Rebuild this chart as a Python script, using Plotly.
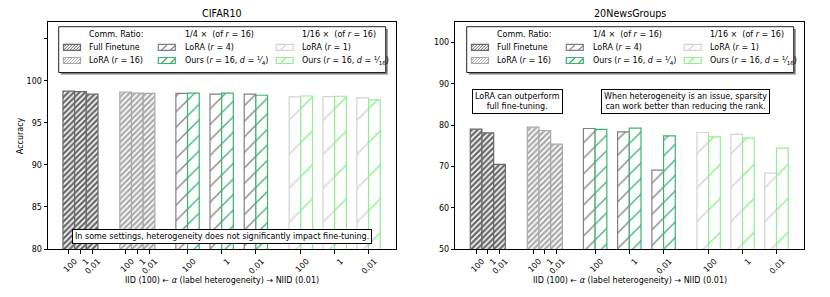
import plotly.graph_objects as go

# ---------------- data ----------------
alphas = ["100", "1", "0.01"]

cifar_full = [98.77, 98.73, 98.41]
cifar_lora16 = [98.65, 98.53, 98.50]
cifar_lora4 = [98.50, 98.41, 98.41]
cifar_ours_q = [98.53, 98.53, 98.29]
cifar_lora1 = [98.10, 98.13, 97.98]
cifar_ours_s = [98.20, 98.17, 97.74]

news_full = [79.03, 78.14, 70.49]
news_lora16 = [79.52, 78.71, 75.40]
news_lora4 = [79.20, 78.39, 69.10]
news_ours_q = [78.96, 79.28, 77.42]
news_lora1 = [78.23, 77.75, 68.39]
news_ours_s = [77.18, 76.86, 74.44]

series_names = ["Full Finetune", "LoRA (r = 16)", "LoRA (r = 4)",
                "Ours (r = 16, d = 1/4)", "LoRA (r = 1)", "Ours (r = 16, d = 1/16)"]

# ---------------- layout constants ----------------
# the page body has an 8px default margin, so the figure is offset by 8px
OFF = 8
W, H = 830 - OFF, 297 - OFF
ML, MR, MT, MB = 48 - OFF, 26, 22 - OFF, 48
PW, PH = W - ML - MR, H - MT - MB   # 756 x 227

pos_full = [1.78, 2.78, 3.78]
pos_lora16 = [6.65, 7.65, 8.65]
pos_quarter = [11.95, 14.87, 17.80]
pos_sixteenth = [21.65, 24.55, 27.45]
BW = 1.0
XR = [0, 29.8]

C_FULL = "#696969"
C_L16 = "#a9a9a9"
C_L4 = "#808080"
C_OQ = "#3cb371"
C_L1 = "#d3d3d3"
C_OS = "#90ee90"
FONT = "DejaVu Sans"


# window-pixel -> paper coordinates
def px(x):
    return (x - 48) / PW


def py(y):
    return (249 - y) / PH


fig = go.Figure()


def add_bars(xs, ys, color, shape_size, solidity, name, xa, ya):
    fig.add_trace(go.Bar(
        x=xs, y=ys, width=BW, name=name, showlegend=False,
        marker=dict(color="white",
                    line=dict(color=color, width=1.2),
                    pattern=dict(shape="/", fgcolor=color, bgcolor="white",
                                 size=shape_size, solidity=solidity, fillmode="replace")),
        xaxis=xa, yaxis=ya))


panels = [
    ("x", "y", [cifar_full, cifar_lora16, cifar_lora4, cifar_ours_q, cifar_lora1, cifar_ours_s]),
    ("x2", "y2", [news_full, news_lora16, news_lora4, news_ours_q, news_lora1, news_ours_s]),
]
for xa, ya, d in panels:
    add_bars(pos_full, d[0], C_FULL, 4, 0.6, series_names[0], xa, ya)
    add_bars(pos_lora16, d[1], C_L16, 4, 0.55, series_names[1], xa, ya)
    add_bars([p - BW / 2 for p in pos_quarter], d[2], C_L4, 11, 0.12, series_names[2], xa, ya)
    add_bars([p + BW / 2 for p in pos_quarter], d[3], C_OQ, 11, 0.12, series_names[3], xa, ya)
    add_bars([p - BW / 2 for p in pos_sixteenth], d[4], C_L1, 24, 0.06, series_names[4], xa, ya)
    add_bars([p + BW / 2 for p in pos_sixteenth], d[5], C_OS, 24, 0.06, series_names[5], xa, ya)

tickvals = pos_full + pos_lora16 + pos_quarter + pos_sixteenth
ticktext = alphas * 4

left_dom = [0, px(396)]
right_dom = [px(455.3), 1]

xcommon = dict(range=XR, tickvals=tickvals, ticktext=ticktext, tickangle=-45,
               ticks="outside", ticklen=3.5, tickwidth=0.8, tickcolor="black",
               showline=True, linecolor="black", linewidth=1, mirror=True,
               showgrid=False, zeroline=False, ticklabelshift=6, automargin=False,
               tickfont=dict(family=FONT, size=8, color="black"))
ycommon = dict(ticks="outside", ticklen=3.5, tickwidth=0.8, tickcolor="black",
               showline=True, linecolor="black", linewidth=1, mirror=True,
               showgrid=False, zeroline=False, automargin=False,
               tickfont=dict(family=FONT, size=8, color="black"))

fig.update_layout(
    template="none",
    width=W, height=H, margin=dict(l=ML, r=MR, t=MT, b=MB, autoexpand=False),
    paper_bgcolor="white", plot_bgcolor="white", barmode="overlay",
    showlegend=False, font=dict(family=FONT, size=8, color="black"),
    xaxis=dict(domain=left_dom, anchor="y", **xcommon),
    yaxis=dict(domain=[0, 1], anchor="x", range=[80, 107],
               tickvals=[80, 85, 90, 95, 100, 105],
               ticktext=["80", "85", "90", "95", "100", " "], **ycommon),
    xaxis2=dict(domain=right_dom, anchor="y2", **xcommon),
    yaxis2=dict(domain=[0, 1], anchor="x2", range=[50, 105],
                tickvals=[50, 60, 70, 80, 90, 100], **ycommon),
)

ann = []
shapes = []

# titles & axis labels
for cx, t in [((47.7 + 396) / 2, "CIFAR10"), ((455.3 + 804) / 2, "20NewsGroups")]:
    ann.append(dict(x=px(cx), y=py(14), xref="paper", yref="paper", text=t,
                    showarrow=False, xanchor="center", yanchor="middle",
                    font=dict(family=FONT, size=9.6, color="black")))
    ann.append(dict(x=px(cx), y=py(280), xref="paper", yref="paper",
                    text="IID (100) ← <i>α</i> (label heterogeneity) → NIID (0.01)",
                    showarrow=False, xanchor="center", yanchor="middle",
                    font=dict(family=FONT, size=8, color="black")))
ann.append(dict(x=px(20.7), y=py(135.5), xref="paper", yref="paper", text="Accuracy",
                textangle=-90, showarrow=False, xanchor="center", yanchor="middle",
                font=dict(family=FONT, size=8, color="black")))

# text boxes
box = dict(showarrow=False, bgcolor="white", bordercolor="black", borderwidth=1,
           borderpad=2, xanchor="center", yanchor="middle", align="center",
           font=dict(family=FONT, size=8, color="black"))
ann.append(dict(x=px(221.7), y=py(236.2), xref="paper", yref="paper",
                text="In some settings, heterogeneity does not significantly impact fine-tuning.", **box))
ann.append(dict(x=px(517), y=py(101.3), xref="paper", yref="paper",
                text="LoRA can outperform<br>full fine-tuning.", **box))
ann.append(dict(x=px(685.8), y=py(101.3), xref="paper", yref="paper",
                text="When heterogeneity is an issue, sparsity<br>can work better than reducing the rank.", **box))

# custom legends (one per panel)
col_titles = ["Comm. Ratio:", "1/4 ×  (of <i>r</i> = 16)", "1/16 ×  (of <i>r</i> = 16)"]
col_items = [
    [("Full Finetune", C_FULL, 4), ("LoRA (<i>r</i> = 16)", C_L16, 4)],
    [("LoRA (<i>r</i> = 4)", C_L4, 11), ("Ours (<i>r</i> = 16, <i>d</i> = <sup>1</sup>⁄<sub>4</sub>)", C_OQ, 11)],
    [("LoRA (<i>r</i> = 1)", C_L1, 24), ("Ours (<i>r</i> = 16, <i>d</i> = <sup>1</sup>⁄<sub>16</sub>)", C_OS, 24)],
]
sw_off = [4.8, 99.6, 217.5]
tx_off = [28.5, 124.0, 241.0]
row_y = [34.3, 47.3, 60.5]

for bx0 in [58.7, 466.7]:
    bx1 = bx0 + 327
    by0, by1 = 26.7, 72.5
    shapes.append(dict(type="rect", xref="paper", yref="paper", layer="above",
                       x0=px(bx0 + 2), x1=px(bx1 + 2), y0=py(by0 + 2), y1=py(by1 + 2),
                       fillcolor="rgba(0,0,0,0.5)", line=dict(width=0)))
    shapes.append(dict(type="rect", xref="paper", yref="paper", layer="above",
                       x0=px(bx0), x1=px(bx1), y0=py(by0), y1=py(by1),
                       fillcolor="white", line=dict(color="#222222", width=1)))
    for c in range(3):
        ann.append(dict(x=px(bx0 + tx_off[c]), y=py(row_y[0]), xref="paper", yref="paper",
                        text=col_titles[c], showarrow=False, xanchor="left", yanchor="middle",
                        font=dict(family=FONT, size=8, color="black")))
        for r, (label, col, dens) in enumerate(col_items[c]):
            yc = row_y[r + 1]
            sx0 = bx0 + sw_off[c]
            sx1 = sx0 + 17
            sy0, sy1 = yc - 3, yc + 3
            shapes.append(dict(type="rect", xref="paper", yref="paper", layer="above",
                               x0=px(sx0), x1=px(sx1), y0=py(sy1), y1=py(sy0),
                               fillcolor="white", line=dict(color=col, width=1.2)))
            step = {4: 3.0, 11: 9.0, 24: 30.0}[dens]
            segs = []
            k = sx0 + (step if dens != 24 else 10)
            while k < sx1 + 6:
                xa_, ya_ = k - 6, sy1
                xb_, yb_ = k, sy0
                if xa_ < sx0:
                    ya_ = sy1 - (sx0 - xa_)
                    xa_ = sx0
                if xb_ > sx1:
                    yb_ = sy0 + (xb_ - sx1)
                    xb_ = sx1
                if xb_ > xa_:
                    segs.append(f"M{px(xa_):.5f},{py(ya_):.5f}L{px(xb_):.5f},{py(yb_):.5f}")
                k += step
            if segs:
                shapes.append(dict(type="path", xref="paper", yref="paper", layer="above",
                                   path="".join(segs),
                                   line=dict(color=col, width=1.2 if dens != 4 else 1.0)))
            ann.append(dict(x=px(bx0 + tx_off[c]), y=py(yc), xref="paper", yref="paper",
                            text=label, showarrow=False, xanchor="left", yanchor="middle",
                            font=dict(family=FONT, size=8, color="black")))

fig.update_layout(annotations=ann, shapes=shapes)
fig.write_html("out.html")
